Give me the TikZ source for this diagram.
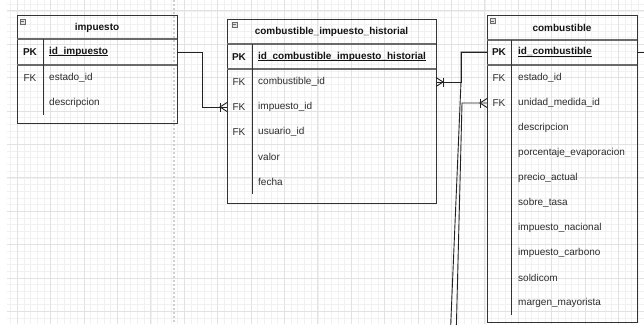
\documentclass[tikz,border=0pt]{standalone}
\usepackage{fontspec}
\setmainfont{Liberation Sans}
\definecolor{tblc}{HTML}{333333}
\definecolor{sepc}{HTML}{6A6A6A}
\definecolor{connc}{HTML}{222222}
\definecolor{txtd}{HTML}{141414}
\definecolor{txtn}{HTML}{2C2C2C}
\definecolor{gmin}{HTML}{F1F1F1}
\definecolor{gmaj}{HTML}{E2E2E2}
\definecolor{pgb}{HTML}{CFCFCF}
\newcommand\myul[1]{\setbox0\hbox{#1}\rlap{\rule[-1.6pt]{\wd0}{0.8pt}}\box0}
\tikzset{
  tbl/.style={draw=tblc, line width=0.9pt, anchor=north west, inner sep=0pt, outer sep=0pt},
  hdr/.style={font=\fontsize{10}{12}\selectfont\bfseries, text=txtd, inner sep=0pt},
  keyb/.style={font=\fontsize{10}{12}\selectfont\bfseries, text=txtd, inner sep=0pt},
  keyn/.style={font=\fontsize{10}{12}\selectfont, text=txtn, inner sep=0pt},
  fldb/.style={font=\fontsize{10}{12}\selectfont\bfseries, text=txtd, anchor=west, inner sep=0pt},
  fld/.style={font=\fontsize{10}{12}\selectfont, text=txtn, anchor=west, inner sep=0pt},
  sepline/.style={draw=sepc, line width=1.3pt},
  colline/.style={draw=tblc, line width=0.8pt},
  conn/.style={draw=connc, line width=0.9pt},
  minusbox/.style={draw=sepc, fill=gmaj, line width=0.5pt, minimum size=5pt, inner sep=0pt,
    path picture={\draw[sepc, line width=0.6pt] ([xshift=1pt]path picture bounding box.west) -- ([xshift=-1pt]path picture bounding box.east);}},
  crowL/.pic={\draw[conn] (-7,-4.5) -- (-7,4.5); \draw[conn] (0,-4.5) -- (-7,0) -- (0,4.5);},
  crowR/.pic={\draw[conn] (7,-4.5) -- (7,4.5); \draw[conn] (0,-4.5) -- (7,0) -- (0,4.5);}
}
\begin{document}
\begin{tikzpicture}[x=1pt, y=-1pt]
\useasboundingbox (0,0) rectangle (644,324);
\clip (0,0) rectangle (644,324);
\fill[white] (0,0) rectangle (644,324);
% grid
\foreach \k in {-1,...,93} {\draw[gmin, line width=0.6pt] ({17.2+6.68*\k},0) -- ({17.2+6.68*\k},324);}
\foreach \k in {-1,...,46} {\draw[gmin, line width=0.6pt] (7,{10.8+6.68*\k}) -- (644,{10.8+6.68*\k});}
\foreach \k in {0,...,18} {\draw[gmaj, line width=0.8pt] ({17.2+33.4*\k},0) -- ({17.2+33.4*\k},324);}
\foreach \k in {0,...,9} {\draw[gmaj, line width=0.8pt] (7,{10.8+33.4*\k}) -- (644,{10.8+33.4*\k});}
\draw[pgb, line width=1.2pt, dash pattern=on 2pt off 2pt] (174,0) -- (174,324);

% ---- impuesto
\node[tbl, minimum width=160pt, minimum height=108pt] (imp) at (17,15) {};
\node[minusbox] (impic) at (22.5,21.5) {};
\node[hdr] (imph) at (97,27.5) {impuesto};
\draw[sepline] ([yshift=-24pt]imp.north west) -- ([yshift=-24pt]imp.north east);
\draw[sepline] ([yshift=-50pt]imp.north west) -- ([yshift=-50pt]imp.north east);
\draw[colline] (43,39) -- (43,115);
\node[keyb] (impk) at (30,52) {PK};
\node[fldb] (impkf) at (49,52) {\myul{id\_impuesto}};
\node[keyn] (impf1) at (30,78) {FK};
\node[fld] (impf1t) at (49,78) {estado\_id};
\node[fld] (impf2t) at (49,103) {descripcion};

% ---- combustible_impuesto_historial
\node[tbl, minimum width=209pt, minimum height=184pt] (cih) at (227,19) {};
\node[minusbox] (cihic) at (234.5,24.5) {};
\node[hdr] (cihh) at (331.5,32) {combustible\_impuesto\_historial};
\draw[sepline] ([yshift=-25pt]cih.north west) -- ([yshift=-25pt]cih.north east);
\draw[sepline] ([yshift=-50pt]cih.north west) -- ([yshift=-50pt]cih.north east);
\draw[colline] (252,44) -- (252,194);
\node[keyb] (cihk) at (239,57) {PK};
\node[fldb] (cihkf) at (258,57) {\myul{id\_combustible\_impuesto\_historial}};
\node[keyn] (cihfk1) at (239,82) {FK};
\node[fld] (cihf1t) at (258,82) {combustible\_id};
\node[keyn] (cihfk2) at (239,107) {FK};
\node[fld] (cihf2t) at (258,107) {impuesto\_id};
\node[keyn] (cihfk3) at (239,132) {FK};
\node[fld] (cihf3t) at (258,132) {usuario\_id};
\node[fld] (cihf4t) at (258,157) {valor};
\node[fld] (cihf5t) at (258,182) {fecha};

% ---- combustible
\node[tbl, minimum width=150pt, minimum height=307pt] (comb) at (487,15) {};
\node[minusbox] (combic) at (492.5,21) {};
\node[hdr] (combh) at (562,27.5) {combustible};
\draw[sepline] ([yshift=-25pt]comb.north west) -- ([yshift=-25pt]comb.north east);
\draw[sepline] ([yshift=-50pt]comb.north west) -- ([yshift=-50pt]comb.north east);
\draw[colline] (511,40) -- (511,315);
\node[keyb] (combk) at (499,52) {PK};
\node[fldb] (combkf) at (518,52) {\myul{id\_combustible}};
\node[keyn] (combfk1) at (499,78) {FK};
\node[fld] (combf1t) at (518,78) {estado\_id};
\node[keyn] (combfk2) at (499,103) {FK};
\node[fld] (combf2t) at (518,103) {unidad\_medida\_id};
\node[fld] (combf3t) at (518,128) {descripcion};
\node[fld] (combf4t) at (518,153) {porcentaje\_evaporacion};
\node[fld] (combf5t) at (518,178) {precio\_actual};
\node[fld] (combf6t) at (518,203) {sobre\_tasa};
\node[fld] (combf7t) at (518,228) {impuesto\_nacional};
\node[fld] (combf8t) at (518,253) {impuesto\_carbono};
\node[fld] (combf9t) at (518,278) {soldicom};
\node[fld] (combf10t) at (518,303) {margen\_mayorista};

% ---- connectors
\draw[conn] (imp.east |- impk.center) -- ++(25,0) |- (cih.west |- cihfk2.center);
\pic at (cih.west |- cihfk2.center) {crowL};

\draw[conn] (comb.west |- combk.center) -- ++(-26,0) |- (cih.east |- cihfk1.center);
\pic at (cih.east |- cihfk1.center) {crowR};
\draw[conn] (comb.west |- combk.center) -- ++(-26,0) -- ++(0,30) -- ++(-10.6,250);

\draw[conn] (comb.west |- combfk2.center) -- ++(-25,0) -- ++(-5.8,230);
\pic at (comb.west |- combfk2.center) {crowL};

\draw[conn] (comb.east |- combk.center) -- ++(15,0);
\end{tikzpicture}
\end{document}
